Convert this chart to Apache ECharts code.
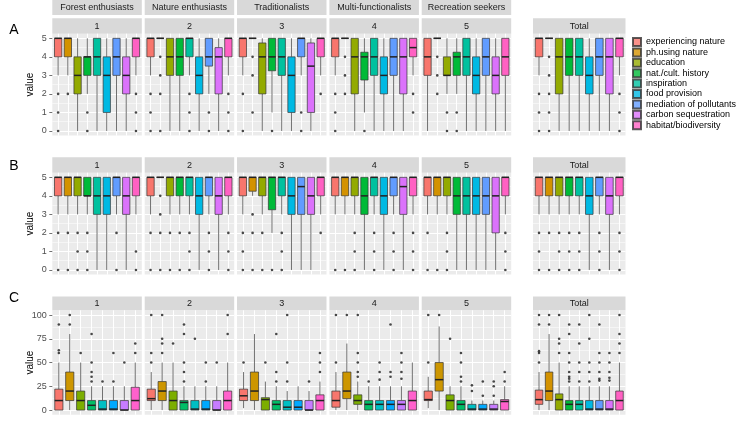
<!DOCTYPE html>
<html><head><meta charset="utf-8">
<script src="https://cdn.jsdelivr.net/npm/echarts@6/dist/echarts.min.js"></script>
<style>html,body{margin:0;padding:0;background:#fff}#c{width:746px;height:432px}</style>
</head><body><div id="c"></div>
<script>
// ---------------- data ----------------
const categories = ['experiencing nature','ph.using nature','education','nat./cult. history','inspiration','food provision','mediation of pollutants','carbon sequestration','habitat/biodiversity'];
const categoriesC = ['c1','c2','c3','c4','c5','c6','c7','c8'];
const groupNames = ['Forest enthusiasts','Nature enthusiasts','Traditionalists','Multi-functionalists','Recreation seekers'];
const panelLabels = ['1','2','3','4','5','Total'];
const rowLabels = ['A','B','C'];
const ticksAB = [0,1,2,3,4,5];
const ticksC = [0,25,50,75,100];
const palette9 = ['#F8766D','#D39200','#93AA00','#00BA38','#00C19F','#00B9E3','#619CFF','#DB72FB','#FF61C3'];
const palette8 = ['#F8766D','#CD9600','#7CAE00','#00BE67','#00BFC4','#00A9FF','#C77CFF','#FF61CC'];

// box: [lower whisker, Q1, median, Q3, upper whisker]; out: outliers per category
const boxA1 = [[3,4,5,5,5],[3,4,5,5,5],[0,2,3,4,5],[2,3,4,4,5],[0,3,4,5,5],[0,1,3,4,5],[0,3,4,5,5],[0,2,3,4,5],[3,4,5,5,5]];
const outA1 = [[2,1,0],[2],[],[1,0],[],[],[],[],[2,1,0]];
const boxA2 = [[3,4,5,5,5],[5,5,5,5,5],[0,3,4,5,5],[0,3,4,5,5],[3,4,5,5,5],[0,2,3,4,5],[2,3.5,4,5,5],[0,2,4,4.5,5],[3,4,5,5,5]];
const outA2 = [[2,1,0],[4,3,2,0],[],[],[2,1,0],[],[1,0],[],[2,1,0]];
const boxA3 = [[3,4,5,5,5],[5,5,5,5,5],[0,2,4,4.75,5],[1,3.25,4,5,5],[0,3,4,5,5],[0,1,3,4,5],[3,4,5,5,5],[0,1,3.5,4.75,5],[3,4,5,5,5]];
const outA3 = [[2,0],[4,3,1],[],[0],[],[],[1,0],[],[2]];
const boxA4 = [[3,4,5,5,5],[5,5,5,5,5],[0,2,4,5,5],[1,2.75,4,4.25,5],[0,3,4,5,5],[0,2,3,4,5],[0,3,4,5,5],[0,2,4,5,5],[3,4,4.5,5,5]];
const outA4 = [[2,1,0],[4,3,2],[],[0],[],[],[],[],[2,1]];
const boxA5 = [[0,3,4,5,5],[5,5,5,5,5],[2,3,3,4,5],[2,3,4,4.25,5],[0,3,4,5,5],[0,2,3,4,5],[0,3,4,5,5],[0,2,3,4,5],[0,3,4,5,5]];
const outA5 = [[],[4,3,2],[1,0],[1,0],[],[],[],[],[]];
const boxAT = [[3,4,5,5,5],[5,5,5,5,5],[0,2,4,5,5],[0,3,4,5,5],[0,3,4,5,5],[0,2,3,4,5],[0,3,4,5,5],[0,2,4,5,5],[3,4,5,5,5]];
const outAT = [[2,1,0],[4,3,2,1,0],[],[],[],[],[],[],[2,1,0]];

const boxB1 = [[3,4,5,5,5],[3,4,5,5,5],[3,4,5,5,5],[3,4,4,5,5],[0,3,4,5,5],[0,3,4,5,5],[3,4,5,5,5],[0,3,4,5,5],[3,4,5,5,5]];
const outB1 = [[2,0],[2,0],[2,1,0],[2,1,0],[],[],[2,0],[],[1,0]];
const boxB2 = [[3,4,5,5,5],[5,5,5,5,5],[3,4,5,5,5],[3,4,5,5,5],[3,4,5,5,5],[0,3,4,5,5],[3,4,5,5,5],[0,3,4,5,5],[3,4,5,5,5]];
const outB2 = [[2,0],[4,3,2,0],[2,0],[2,0],[2,1,0],[],[2,1,0],[],[2,1,0]];
const boxB3 = [[3,4,5,5,5],[4,4.25,5,5,5],[3,4,5,5,5],[2,3.25,5,5,5],[3,4,5,5,5],[0,3,4,5,5],[0,3,4.5,5,5],[0,3,4,5,5],[3,4,5,5,5]];
const outB3 = [[2,1,0],[3,2,0],[2,0],[0],[2,1,0],[],[],[],[2]];
const boxB4 = [[3,4,5,5,5],[3,4,5,5,5],[3,4,5,5,5],[0,3,4,5,5],[3,4,5,5,5],[0,3,4,5,5],[3,4,5,5,5],[0,3,4.5,5,5],[3,4,5,5,5]];
const outB4 = [[0],[0],[2,1,0],[],[2,1,0],[],[2,1,0],[],[2,1,0]];
const boxB5 = [[3,4,5,5,5],[3,4,5,5,5],[3,4,5,5,5],[0,3,4,5,5],[0,3,4,5,5],[0,3,4,5,5],[0,3,4,5,5],[0,2,4,5,5],[3,4,5,5,5]];
const outB5 = [[2,0],[0],[2,1,0],[],[],[],[],[],[2,1,0]];
const boxBT = [[3,4,5,5,5],[3,4,5,5,5],[3,4,5,5,5],[3,4,5,5,5],[3,4,5,5,5],[0,3,4,5,5],[3,4,5,5,5],[0,3,4,5,5],[3,4,5,5,5]];
const outBT = [[2,1,0],[2,0],[2,1,0],[2,1,0],[2,1,0],[],[2,1,0],[],[2,1,0]];

const boxC1 = [[0,0,10,22,50],[0,10,20,40,80],[0,0,10,20,50],[0,0,5,10,25],[0,0,1,10,25],[0,0,1,10,25],[0,0,0,10,25],[0,0,10,24,50]];
const outC1 = [[60,63,90],[90,100],[60],[30,35,40,50,80],[30],[30,60],[50],[60,70]];
const boxC2 = [[0,10,12,22,40],[0,10,20,30,50],[0,0,10,20,50],[0,0,8,10,25],[0,0,1,10,25],[0,0,1,10,25],[0,0,0,10,25],[0,0,10,20,50]];
const outC2 = [[50,60,100],[60,70,75,100],[70],[30,40,50,80,90],[75],[30,50],[50],[80,100]];
const boxC3 = [[2,10,15,22,40],[0,10,20,40,80],[0,0,11,13,30],[0,0,6,10,25],[0,0,3,10,20],[0,0,3,10,25],[0,0,0,10,20],[0,0,10,16,30]];
const outC3 = [[50],[],[50],[30,40,80],[30,50,100],[],[30],[40,50,60]];
const boxC4 = [[0,3,10,20,40],[0,12,20,40,70],[0,6,10,16,30],[0,0,6,10,25],[0,0,6,10,25],[0,0,6,10,25],[0,0,6,10,25],[0,0,10,20,50]];
const outC4 = [[50,100],[100],[35,40,50,60,100],[30],[32,40,50],[35,40,90],[33,40,50,60],[]];
const boxC5 = [[2,10,11,20,35],[0,20,32,50,88],[0,0,10,16,25],[0,0,6,10,25],[0,0,1,6,10],[0,0,1,6,10],[0,0,1,6,10],[0,0,9,11,25]];
const outC5 = [[50,100],[100],[75],[30,35,50,60],[20,26],[15,30],[15,25,30],[30,40]];
const boxCT = [[0,6,11,21,40],[0,10,20,40,80],[0,0,11,17,50],[0,0,6,10,25],[0,0,6,10,25],[0,0,1,10,25],[0,0,1,10,25],[0,0,1,10,25],[0,0,10,20,50]];
const outCT = [[50,60,62,90,100],[90,100],[60,70,75,100],[30,33,35,40,50,60,80,90],[30,40,50,70,90],[30,40,50,75,100],[31,33,40,50,60,90],[31,34,40,50,60],[60,70,80,100]];

// ---------------- layout ----------------
const FONT = 'Liberation Sans, Arial, sans-serif';
const panelLeft = [52.3, 144.7, 237.0, 329.4, 421.7, 533];
const panelWidth = [89.5, 89.5, 89.5, 89.5, 89.5, 92.5];
const rowLayout = [
  {gridTop: 33.7, gridH: 101.9, stripTop: 18.3, stripH: 15.4, labelY: 30},
  {gridTop: 172.7, gridH: 101.9, stripTop: 157.3, stripH: 15.4, labelY: 166},
  {gridTop: 310.3, gridH: 104.5, stripTop: 296.5, stripH: 13.8, labelY: 298.5}
];
const rows = [
  {boxes: [boxA1, boxA2, boxA3, boxA4, boxA5, boxAT], outs: [outA1, outA2, outA3, outA4, outA5, outAT], ticks: ticksAB},
  {boxes: [boxB1, boxB2, boxB3, boxB4, boxB5, boxBT], outs: [outB1, outB2, outB3, outB4, outB5, outBT], ticks: ticksAB},
  {boxes: [boxC1, boxC2, boxC3, boxC4, boxC5, boxCT], outs: [outC1, outC2, outC3, outC4, outC5, outCT], ticks: ticksC}
];

function boxRenderer(pal) {
  return function (params, api) {
    const x = api.value(0);
    const lo = api.coord([x, api.value(1)]);
    const q1 = api.coord([x, api.value(2)]);
    const md = api.coord([x, api.value(3)]);
    const q3 = api.coord([x, api.value(4)]);
    const hi = api.coord([x, api.value(5)]);
    const bw = api.size([0.75, 0])[0];
    const cx = lo[0];
    const col = pal[x - 1];
    return {type: 'group', children: [
      {type: 'line', shape: {x1: cx, y1: hi[1], x2: cx, y2: q3[1]}, style: {stroke: '#333', lineWidth: 0.7}},
      {type: 'line', shape: {x1: cx, y1: q1[1], x2: cx, y2: lo[1]}, style: {stroke: '#333', lineWidth: 0.7}},
      {type: 'rect', shape: {x: cx - bw / 2, y: q3[1], width: bw, height: Math.max(q1[1] - q3[1], 0)}, style: {fill: col, stroke: '#333', lineWidth: 0.7}},
      {type: 'line', shape: {x1: cx - bw / 2, y1: md[1], x2: cx + bw / 2, y2: md[1]}, style: {stroke: '#222', lineWidth: 1.5}}
    ]};
  };
}

const grids = [], xAxes = [], yAxes = [], series = [], graphics = [];
const white = {color: '#FFFFFF', width: 1};
const whiteMinor = {color: '#FFFFFF', width: 0.5};

rows.forEach((row, r) => {
  const lay = rowLayout[r];
  const isC = r === 2;
  row.boxes.forEach((boxes, p) => {
    const gi = grids.length;
    const n = boxes.length;
    const pal = n === 9 ? palette9 : palette8;
    grids.push({left: panelLeft[p], top: lay.gridTop, width: panelWidth[p], height: lay.gridH,
      show: true, backgroundColor: '#EBEBEB', borderWidth: 0, containLabel: false, outerBoundsMode: 'none'});
    xAxes.push({type: 'value', gridIndex: gi, min: 0.4, max: n + 0.6, splitNumber: n,
      axisLine: {show: false}, axisTick: {show: false}, axisLabel: {show: false},
      splitLine: {show: true, showMinLine: false, showMaxLine: false, lineStyle: white}});
    const xi = xAxes.length - 1;
    const showLab = p === 0;
    const yBase = {type: 'value', gridIndex: gi, position: 'left', axisLine: {show: false},
      axisTick: {show: showLab, length: 3, lineStyle: {color: '#333', width: 0.7}},
      axisLabel: {show: showLab, color: '#4D4D4D', fontSize: 9, fontFamily: FONT, margin: 5.5, showMinLabel: false, showMaxLabel: false}};
    let yi;
    if (!isC) {
      yAxes.push(Object.assign({}, yBase, {min: -0.25, max: 5.25, splitNumber: 5,
        splitLine: {show: true, showMinLine: false, showMaxLine: false, lineStyle: white},
        minorTick: {show: false, splitNumber: 2},
        minorSplitLine: {show: true, lineStyle: whiteMinor}}));
      yi = yAxes.length - 1;
    } else {
      yAxes.push(Object.assign({}, yBase, {min: -5, max: 105,
        axisTick: Object.assign({}, yBase.axisTick, {customValues: row.ticks}),
        axisLabel: Object.assign({}, yBase.axisLabel, {customValues: row.ticks, showMinLabel: true, showMaxLabel: true}),
        splitLine: {show: true, lineStyle: white}}));
      yi = yAxes.length - 1;
      const minorVals = row.ticks.slice(1).map((t, i) => (t + row.ticks[i]) / 2);
      yAxes.push({type: 'value', gridIndex: gi, position: 'right', min: -5, max: 105, axisLine: {show: false},
        axisTick: {show: false, customValues: minorVals}, axisLabel: {show: false, customValues: minorVals},
        splitLine: {show: true, lineStyle: whiteMinor}});
    }
    series.push({type: 'custom', xAxisIndex: xi, yAxisIndex: yi, renderItem: boxRenderer(pal),
      dimensions: ['x', 'lo', 'q1', 'med', 'q3', 'hi'], encode: {x: 0, y: [1, 2, 3, 4, 5]},
      data: boxes.map((b, i) => [i + 1].concat(b)), silent: true, z: 2});
    const pts = [];
    row.outs[p].forEach((vals, i) => vals.forEach(v => pts.push([i + 1, v])));
    series.push({type: 'scatter', xAxisIndex: xi, yAxisIndex: yi, data: pts, symbol: 'circle', symbolSize: 2.6,
      itemStyle: {color: '#1A1A1A'}, silent: true, z: 3});

    // strip
    graphics.push({type: 'rect', shape: {x: panelLeft[p], y: lay.stripTop, width: panelWidth[p], height: lay.stripH}, style: {fill: '#D9D9D9'}, silent: true});
    graphics.push({type: 'text', x: panelLeft[p] + panelWidth[p] / 2, y: lay.stripTop + lay.stripH / 2 + 0.5,
      style: {text: panelLabels[p], fill: '#1A1A1A', fontSize: 9, fontFamily: FONT, align: 'center', verticalAlign: 'middle'}, silent: true});
    if (r === 0 && p < 5) {
      graphics.push({type: 'rect', shape: {x: panelLeft[p], y: 0, width: panelWidth[p], height: 15}, style: {fill: '#D9D9D9'}, silent: true});
      graphics.push({type: 'text', x: panelLeft[p] + panelWidth[p] / 2, y: 8,
        style: {text: groupNames[p], fill: '#1A1A1A', fontSize: 9, fontFamily: FONT, align: 'center', verticalAlign: 'middle'}, silent: true});
    }
  });
  graphics.push({type: 'text', x: 14, y: lay.labelY, style: {text: rowLabels[r], fill: '#000', fontSize: 14, fontFamily: FONT, align: 'center', verticalAlign: 'middle'}, silent: true});
  graphics.push({type: 'text', x: 30, y: lay.gridTop + lay.gridH / 2, rotation: Math.PI / 2,
    style: {text: 'value', fill: '#000', fontSize: 10, fontFamily: FONT, align: 'center', verticalAlign: 'middle'}, silent: true});
});

// legend carriers
categories.forEach((c, i) => {
  series.push({type: 'scatter', name: c, xAxisIndex: 5, yAxisIndex: 5, data: [],
    itemStyle: {color: palette9[i], borderColor: '#333', borderWidth: 0.6}});
});

const chart = echarts.init(document.getElementById('c'), null, {renderer: 'canvas'});
chart.setOption({
  animation: false,
  backgroundColor: '#FFFFFF',
  textStyle: {fontFamily: FONT},
  grid: grids, xAxis: xAxes, yAxis: yAxes, series: series,
  legend: {show: true, orient: 'vertical', left: 632, top: 37, padding: 0, itemWidth: 8, itemHeight: 8, itemGap: 0.4,
    icon: 'rect', selectedMode: false, data: categories,
    textStyle: {fontSize: 9, color: '#000', fontFamily: FONT, lineHeight: 10}},
  graphic: graphics
});
</script></body></html>
